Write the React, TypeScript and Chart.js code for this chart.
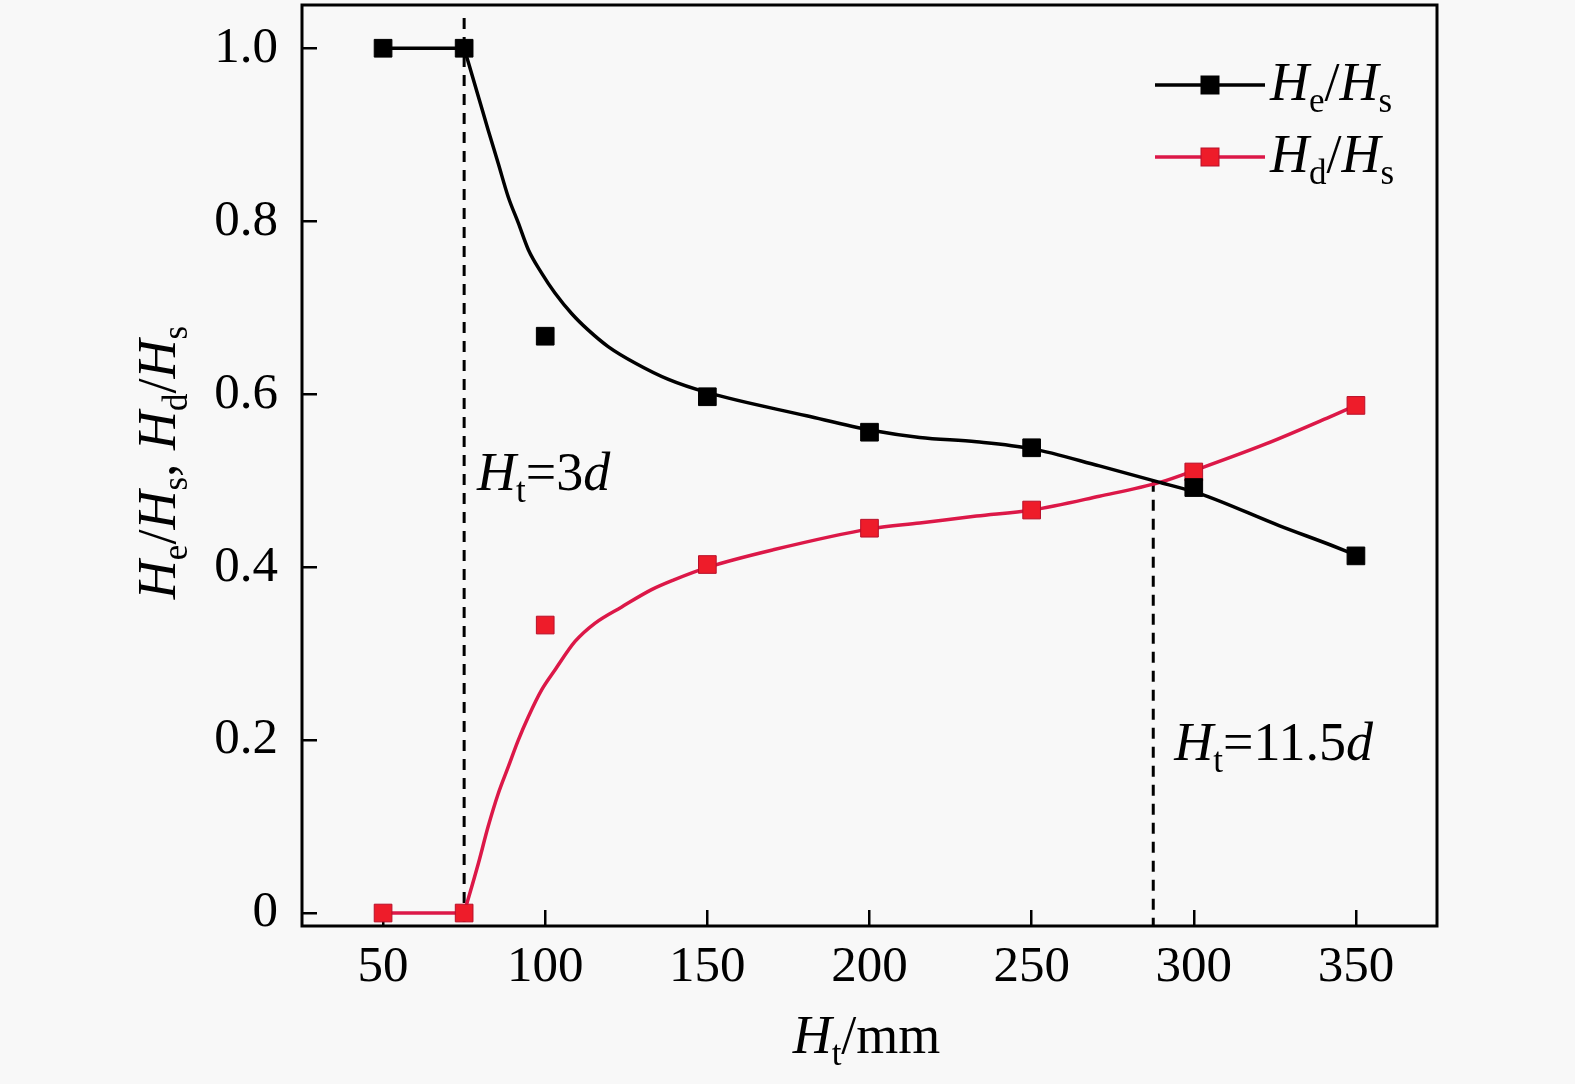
import React, { useEffect, useRef } from 'react';
import { Chart, registerables } from 'chart.js';

Chart.register(...registerables);

// Measured data points
const xValues = [50, 75, 100, 150, 200, 250, 300, 350];
const heHs = [1.0, 1.0, 0.667, 0.597, 0.556, 0.538, 0.492, 0.413];
const hdHs = [0.0, 0.0, 0.333, 0.403, 0.445, 0.466, 0.51, 0.587];

// Fitted curves
const heFitX = [75, 79.4, 82.4, 85.5, 88.6, 91.7, 94.8, 98.9, 103, 108.2, 113.3, 119.4, 127.7, 138, 149.8, 180.6, 201, 215.5, 233, 250, 270.9, 289.5, 301.8, 326.3, 342.6, 350];
const heFitY = [1.0, 0.944, 0.9055, 0.867, 0.828, 0.798, 0.767, 0.74, 0.717, 0.693, 0.674, 0.655, 0.636, 0.617, 0.602, 0.575, 0.558, 0.55, 0.545, 0.537, 0.517, 0.498, 0.485, 0.448, 0.425, 0.414];
const hdFitX = [75, 79.4, 82.4, 85.5, 88.6, 91.7, 94.8, 98.9, 103, 109.2, 115.3, 123.6, 132.8, 139.5, 150.3, 170.3, 200.6, 215.5, 233, 250, 270.9, 289.5, 301.8, 322.2, 342.7, 350];
const hdFitY = [0, 0.0575, 0.1, 0.138, 0.169, 0.2, 0.227, 0.258, 0.281, 0.314, 0.335, 0.354, 0.374, 0.385, 0.4, 0.42, 0.4445, 0.451, 0.459, 0.466, 0.482, 0.498, 0.514, 0.5425, 0.575, 0.587];

// Flat segments before the threshold
const flatX = [50, 75];
const heFlatY = [1.0, 1.0];
const hdFlatY = [0.0, 0.0];

// Dashed reference lines
const dash1X = [75, 75];
const dash1Y = [1.035, -0.015];
const dash2X = [287.5, 287.5];
const dash2Y = [0.5, -0.015];

// Axis ticks
const xTicks = [50, 100, 150, 200, 250, 300, 350];
const yTicks = [0, 0.2, 0.4, 0.6, 0.8, 1.0];
const xRange = [25, 375];
const yRange = [-0.015, 1.05];

const BLACK = '#000000';
const RED_LINE = '#dc1848';
const RED_FILL = '#ee1c2a';
const RED_EDGE = '#b8102a';
const BG = '#f8f8f8';
const SERIF = '"Liberation Serif", "Times New Roman", serif';
const W = 1575;
const H = 1084;

const pts = (xs: number[], ys: number[]) => xs.map((x, i) => ({ x, y: ys[i] }));

type Seg = [string, 'i' | 'r' | 's'];
const M = 54;
const S = 35;
const SUB_DY = 12;

function setFont(ctx: CanvasRenderingContext2D, st: string) {
  if (st === 'i') ctx.font = `italic ${M}px ${SERIF}`;
  else if (st === 'r') ctx.font = `${M}px ${SERIF}`;
  else ctx.font = `${S}px ${SERIF}`;
}

function drawRich(ctx: CanvasRenderingContext2D, segs: Seg[], x: number, y: number) {
  let cx = x;
  ctx.textBaseline = 'alphabetic';
  ctx.textAlign = 'left';
  ctx.fillStyle = '#000';
  for (const [t, st] of segs) {
    setFont(ctx, st);
    const dy = st === 's' ? SUB_DY : 0;
    ctx.fillText(t, cx, y + dy);
    cx += ctx.measureText(t).width;
  }
  return cx - x;
}

function richWidth(ctx: CanvasRenderingContext2D, segs: Seg[]) {
  let w = 0;
  for (const [t, st] of segs) {
    setFont(ctx, st);
    w += ctx.measureText(t).width;
  }
  return w;
}

const heLabel: Seg[] = [['H', 'i'], ['e', 's'], ['/', 'r'], ['H', 'i'], ['s', 's']];
const hdLabel: Seg[] = [['H', 'i'], ['d', 's'], ['/', 'r'], ['H', 'i'], ['s', 's']];
const yTitle: Seg[] = [['H', 'i'], ['e', 's'], ['/', 'r'], ['H', 'i'], ['s', 's'], [', ', 'r'], ['H', 'i'], ['d', 's'], ['/', 'r'], ['H', 'i'], ['s', 's']];
const xTitle: Seg[] = [['H', 'i'], ['t', 's'], ['/mm', 'r']];
const note1: Seg[] = [['H', 'i'], ['t', 's'], ['=3', 'r'], ['d', 'i']];
const note2: Seg[] = [['H', 'i'], ['t', 's'], ['=11.5', 'r'], ['d', 'i']];

const decorPlugin = {
  id: 'decor',
  beforeDraw(chart: any) {
    const ctx = chart.ctx;
    ctx.save();
    ctx.fillStyle = BG;
    ctx.fillRect(0, 0, chart.width, chart.height);
    ctx.restore();
  },
  afterDraw(chart: any) {
    const ctx: CanvasRenderingContext2D = chart.ctx;
    const a = chart.chartArea;
    const xs = chart.scales.x;
    const ys = chart.scales.y;
    ctx.save();
    // frame
    ctx.strokeStyle = '#000';
    ctx.lineWidth = 3;
    ctx.strokeRect(a.left, a.top, a.right - a.left, a.bottom - a.top);

    // y title (rotated)
    ctx.save();
    const yw = richWidth(ctx, yTitle);
    const ymid = (a.top + a.bottom) / 2 - 3;
    ctx.translate(175, ymid + yw / 2);
    ctx.rotate(-Math.PI / 2);
    drawRich(ctx, yTitle, 0, 0);
    ctx.restore();

    // x title
    const xw = richWidth(ctx, xTitle);
    const xmid = (a.left + a.right) / 2 - 3;
    drawRich(ctx, xTitle, xmid - xw / 2, 1053);

    // annotations
    drawRich(ctx, note1, xs.getPixelForValue(79), ys.getPixelForValue(0.489));
    drawRich(ctx, note2, xs.getPixelForValue(294), ys.getPixelForValue(0.177));

    // legend
    const items = [
      { label: heLabel, line: BLACK, fill: BLACK, edge: BLACK, y: 85 },
      { label: hdLabel, line: RED_LINE, fill: RED_FILL, edge: RED_EDGE, y: 157 },
    ];
    for (const it of items) {
      ctx.strokeStyle = it.line;
      ctx.lineWidth = 3.5;
      ctx.beginPath();
      ctx.moveTo(1155, it.y);
      ctx.lineTo(1265, it.y);
      ctx.stroke();
      ctx.fillStyle = it.fill;
      ctx.fillRect(1201, it.y - 9, 18, 18);
      ctx.strokeStyle = it.edge;
      ctx.lineWidth = 1;
      ctx.strokeRect(1201, it.y - 9, 18, 18);
      drawRich(ctx, it.label, 1270, it.y + 15);
    }
    ctx.restore();
  },
};

export default function App() {
  const ref = useRef<HTMLCanvasElement | null>(null);

  useEffect(() => {
    document.body.style.margin = '0';
    document.body.style.overflow = 'hidden';
    document.body.style.background = BG;
    if (!ref.current) return;
    const lineBase = { showLine: true, pointRadius: 0, fill: false, borderWidth: 3.5 };
    const chart = new Chart(ref.current, {
      type: 'scatter',
      data: {
        datasets: [
          {
            label: 'He/Hs',
            data: pts(xValues, heHs),
            showLine: false,
            pointStyle: 'rect',
            pointRadius: 12.5,
            backgroundColor: BLACK,
            borderColor: BLACK,
            borderWidth: 1,
            order: 0,
          },
          {
            label: 'Hd/Hs',
            data: pts(xValues, hdHs),
            showLine: false,
            pointStyle: 'rect',
            pointRadius: 12.5,
            backgroundColor: RED_FILL,
            borderColor: RED_EDGE,
            borderWidth: 1,
            order: 0,
          },
          { ...lineBase, label: 'heFit', data: pts(heFitX, heFitY), borderColor: BLACK, cubicInterpolationMode: 'monotone', order: 1 },
          { ...lineBase, label: 'hdFit', data: pts(hdFitX, hdFitY), borderColor: RED_LINE, cubicInterpolationMode: 'monotone', order: 1 },
          { ...lineBase, label: 'heFlat', data: pts(flatX, heFlatY), borderColor: BLACK, tension: 0, order: 1 },
          { ...lineBase, label: 'hdFlat', data: pts(flatX, hdFlatY), borderColor: RED_LINE, tension: 0, order: 1 },
          { ...lineBase, label: 'dash1', data: pts(dash1X, dash1Y), borderColor: BLACK, borderWidth: 3, borderDash: [11, 8], tension: 0, order: 2 },
          { ...lineBase, label: 'dash2', data: pts(dash2X, dash2Y), borderColor: BLACK, borderWidth: 3, borderDash: [11, 8], tension: 0, order: 2 },
        ] as any,
      },
      options: {
        animation: false,
        responsive: false,
        devicePixelRatio: 1,
        layout: { autoPadding: false, padding: { top: 5, right: 138, left: 0, bottom: 0 } },
        plugins: { legend: { display: false }, tooltip: { enabled: false }, title: { display: false } },
        scales: {
          x: {
            type: 'linear',
            min: xRange[0],
            max: xRange[1],
            afterBuildTicks: (s: any) => { s.ticks = xTicks.map((v) => ({ value: v })); },
            afterFit: (s: any) => {
              s.height = 158;
              s.paddingLeft = 0;
              s.paddingRight = 0;
            },
            border: { display: false },
            grid: { display: true, drawOnChartArea: false, drawTicks: true, tickLength: -16, color: '#000', lineWidth: 2.5 },
            ticks: {
              color: '#000',
              font: { family: SERIF, size: 51 },
              padding: 27,
              maxRotation: 0,
              autoSkip: false,
              callback: (v: any) => String(v),
            },
          },
          y: {
            type: 'linear',
            min: yRange[0],
            max: yRange[1],
            afterBuildTicks: (s: any) => { s.ticks = yTicks.map((v) => ({ value: v })); },
            afterFit: (s: any) => {
              s.width = 302;
              s.paddingTop = 0;
              s.paddingBottom = 0;
            },
            border: { display: false },
            grid: { display: true, drawOnChartArea: false, drawTicks: true, tickLength: -15, color: '#000', lineWidth: 2.5 },
            ticks: {
              color: '#000',
              font: { family: SERIF, size: 51 },
              padding: 39,
              autoSkip: false,
              callback: (v: any) => (Number(v) === 0 ? '0' : Number(v).toFixed(1)),
            },
          },
        },
      } as any,
      plugins: [decorPlugin],
    });
    return () => chart.destroy();
  }, []);

  return (
    <div style={{ width: W, height: H, position: 'relative' }}>
      <canvas ref={ref} width={W} height={H} style={{ display: 'block', width: W, height: H }} />
    </div>
  );
}
